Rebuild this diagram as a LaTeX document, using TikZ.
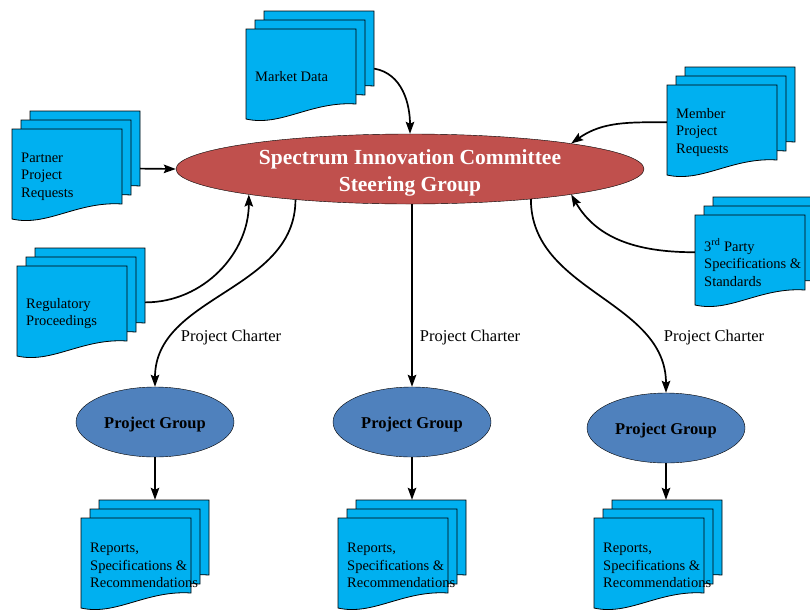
\documentclass[tikz,border=0pt]{standalone}
\usepackage{fontspec}
\setmainfont{Liberation Serif}
\usetikzlibrary{arrows.meta,shapes.geometric}
\definecolor{docblue}{HTML}{00B0F0}
\definecolor{sicred}{HTML}{C0504D}
\definecolor{pgblue}{HTML}{4F81BD}
\tikzset{
  sheet/.pic={\draw[fill=docblue, line width=0.8pt] (0,0) -- (110,0) -- (110,-75)
      .. controls (65,-72) and (35,-98) .. (0,-90) -- cycle;},
  docbox/.style={minimum width=110pt, minimum height=90pt, inner sep=0},
  backbox/.style={minimum width=110pt, minimum height=75pt, inner sep=0},
  doctext/.style={anchor=west, align=left, inner sep=0, font=\fontsize{14.5}{17.5}\selectfont},
  pgroup/.style={ellipse, draw, fill=pgblue, minimum width=158pt, minimum height=70pt, inner sep=0},
  pgtext/.style={inner sep=0, font=\bfseries\fontsize{16.5}{20}\selectfont},
  sictext/.style={inner sep=0, text=white, align=center, font=\bfseries\fontsize{21.5}{27}\selectfont},
  charter/.style={font=\fontsize{16.5}{20}\selectfont},
  conn/.style={-{Stealth[length=12pt,width=8.5pt,inset=2pt]}, line width=1.7pt}
}
\begin{document}
\begin{tikzpicture}[x=1pt, y=1pt]
\useasboundingbox (0,0) rectangle (810,-611);
% document stacks
\foreach \n/\x/\y/\t in {market/246/29/{Market Data},
    partner/12/129/{Partner\\Project\\Requests},
    member/667/85/{Member\\Project\\Requests},
    third/695/215/{3\textsuperscript{rd} Party\\Specifications \&\\Standards},
    regulatory/17/266/{Regulatory\\Proceedings},
    rep1/81/518/{Reports,\\Specifications \&\\Recommendations},
    rep2/338/518/{Reports,\\Specifications \&\\Recommendations},
    rep3/594/518/{Reports,\\Specifications \&\\Recommendations}} {
  \pic at (\x+18,-\y+18) {sheet};
  \pic at (\x+9,-\y+9) {sheet};
  \pic at (\x,-\y) {sheet};
  \node[backbox] (\n-b) at (\x+73,-\y-19.5) {};
  \node[docbox] (\n) at (\x+55,-\y-45) {};
  \node[doctext] (\n-t) at (\x+9,-\y-47.5) {\t};
}
% committee and groups
\node[ellipse, draw, fill=sicred, minimum width=468pt, minimum height=70pt, inner sep=0]
    (sic) at (410,-169) {};
\node[sictext] (sic-t) at (410,-173) {Spectrum Innovation Committee\\Steering Group};
\foreach \k/\x/\y in {1/155/422, 2/412/422, 3/666/428} {
  \node[pgroup] (pg\k) at (\x,-\y) {};
  \node[pgtext] (pg\k-t) at (\x,-\y-3) {Project Group};
}
\foreach \k/\x in {1/231, 2/470, 3/714}
  \node[charter] (ch\k) at (\x,-338) {Project Charter};
% inputs
\draw[conn] (market-b.-20) to[out=-10,in=90] (sic.north);
\draw[conn] (partner-b.-20) -- (sic.west);
\draw[conn] (member.172) to[out=180,in=35] (sic.9);
\draw[conn] (third.172) to[out=180,in=-60] (sic.-9);
\draw[conn] (regulatory-b.-17) to[out=0,in=-90] (sic.-171);
% charters
\draw[conn] (sic.-165.6) to[out=-90,in=90] (pg1.north);
\draw[conn] (pg2.north |- sic.south) -- (pg2.north);
\draw[conn] (sic.-14.4) to[out=-90,in=90] (pg3.north);
% outputs
\foreach \k in {1,2,3}
  \draw[conn] (pg\k.south) -- (pg\k.south |- rep\k-b.north);
\end{tikzpicture}
\end{document}
